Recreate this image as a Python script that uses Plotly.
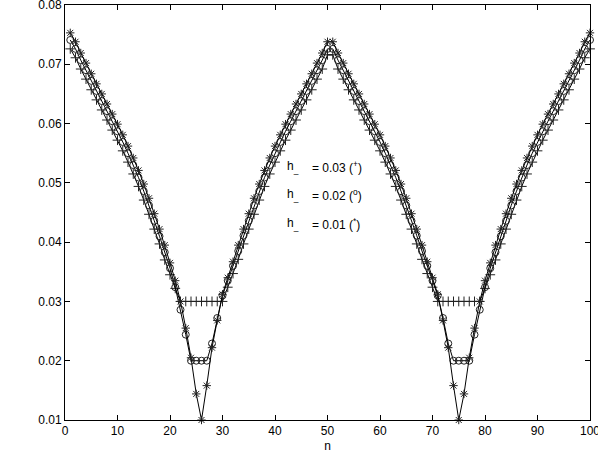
import plotly.graph_objects as go

n_values = list(range(1, 101))

# h = 0.03 (+)
plus_first = [0.0726, 0.0711, 0.0692, 0.0675, 0.0657, 0.0640, 0.0623, 0.0606, 0.0589, 0.0572,
              0.0554, 0.0535, 0.0515, 0.0494, 0.0471, 0.0447, 0.0422, 0.0397, 0.0370, 0.0345,
              0.0322, 0.0300, 0.0300, 0.0300, 0.0300, 0.0300, 0.0300, 0.0300, 0.0300, 0.0300,
              0.0324, 0.0347, 0.0371, 0.0397, 0.0422, 0.0447, 0.0471, 0.0494, 0.0515, 0.0535,
              0.0554, 0.0572, 0.0589, 0.0606, 0.0623, 0.0640, 0.0657, 0.0675, 0.0692, 0.0716]
plus_second = [0.0716, 0.0692, 0.0675, 0.0657, 0.0640, 0.0623, 0.0606, 0.0589, 0.0572, 0.0554,
               0.0535, 0.0515, 0.0494, 0.0471, 0.0447, 0.0422, 0.0397, 0.0371, 0.0347, 0.0324,
               0.0300, 0.0300, 0.0300, 0.0300, 0.0300, 0.0300, 0.0300, 0.0300, 0.0300, 0.0322,
               0.0345, 0.0370, 0.0397, 0.0422, 0.0447, 0.0471, 0.0494, 0.0515, 0.0535, 0.0554,
               0.0572, 0.0589, 0.0606, 0.0623, 0.0640, 0.0657, 0.0675, 0.0692, 0.0711, 0.0726]

# h = 0.02 (o)
circ_first = [0.0741, 0.0726, 0.0707, 0.0690, 0.0672, 0.0655, 0.0638, 0.0621, 0.0604, 0.0587,
              0.0569, 0.0550, 0.0530, 0.0509, 0.0486, 0.0462, 0.0436, 0.0410, 0.0383, 0.0356,
              0.0324, 0.0286, 0.0244, 0.0200, 0.0200, 0.0200, 0.0200, 0.0229, 0.0272, 0.0310,
              0.0335, 0.0360, 0.0385, 0.0411, 0.0436, 0.0462, 0.0486, 0.0509, 0.0530, 0.0550,
              0.0569, 0.0587, 0.0604, 0.0621, 0.0638, 0.0655, 0.0672, 0.0690, 0.0707, 0.0726]
circ_second = [0.0726, 0.0707, 0.0690, 0.0672, 0.0655, 0.0638, 0.0621, 0.0604, 0.0587, 0.0569,
               0.0550, 0.0530, 0.0509, 0.0486, 0.0462, 0.0436, 0.0411, 0.0385, 0.0360, 0.0335,
               0.0310, 0.0272, 0.0229, 0.0200, 0.0200, 0.0200, 0.0200, 0.0244, 0.0286, 0.0324,
               0.0356, 0.0383, 0.0410, 0.0436, 0.0462, 0.0486, 0.0509, 0.0530, 0.0550, 0.0569,
               0.0587, 0.0604, 0.0621, 0.0638, 0.0655, 0.0672, 0.0690, 0.0707, 0.0726, 0.0741]

# h = 0.01 (*)
star_first = [0.0753, 0.0738, 0.0719, 0.0702, 0.0684, 0.0667, 0.0650, 0.0633, 0.0616, 0.0599,
              0.0581, 0.0562, 0.0542, 0.0521, 0.0498, 0.0474, 0.0448, 0.0422, 0.0395, 0.0365,
              0.0335, 0.0300, 0.0255, 0.0205, 0.0144, 0.0100, 0.0158, 0.0222, 0.0268, 0.0312,
              0.0340, 0.0367, 0.0395, 0.0422, 0.0448, 0.0474, 0.0498, 0.0521, 0.0542, 0.0562,
              0.0581, 0.0599, 0.0616, 0.0633, 0.0650, 0.0667, 0.0684, 0.0702, 0.0719, 0.0738]
star_second = [0.0738, 0.0719, 0.0702, 0.0684, 0.0667, 0.0650, 0.0633, 0.0616, 0.0599, 0.0581,
               0.0562, 0.0542, 0.0521, 0.0498, 0.0474, 0.0448, 0.0422, 0.0395, 0.0367, 0.0340,
               0.0312, 0.0268, 0.0222, 0.0158, 0.0100, 0.0144, 0.0205, 0.0255, 0.0300, 0.0335,
               0.0365, 0.0395, 0.0422, 0.0448, 0.0474, 0.0498, 0.0521, 0.0542, 0.0562, 0.0581,
               0.0599, 0.0616, 0.0633, 0.0650, 0.0667, 0.0684, 0.0702, 0.0719, 0.0738, 0.0753]

plus_values = plus_first + plus_second
circ_values = circ_first + circ_second
star_values = star_first + star_second

x_ticks = [0, 10, 20, 30, 40, 50, 60, 70, 80, 90, 100]
y_ticks = [0.01, 0.02, 0.03, 0.04, 0.05, 0.06, 0.07, 0.08]
labels = ["= 0.03 (<sup>+</sup>)", "= 0.02 (<sup>o</sup>)", "= 0.01 (<sup>*</sup>)"]
label_y = [0.0527, 0.0480, 0.0431]

FONT = "Liberation Sans, Arial, Helvetica, sans-serif"

fig = go.Figure()
series = [
    (plus_values, "cross-thin-open", 7),
    (circ_values, "circle-open", 7),
    (star_values, "asterisk-open", 7),
]
for vals, sym, size in series:
    fig.add_trace(go.Scatter(
        x=n_values, y=vals, mode="lines+markers",
        line=dict(color="black", width=1),
        marker=dict(symbol=sym, size=size, color="#222222", line=dict(width=1, color="#222222")),
        showlegend=False, cliponaxis=False,
    ))

for lab, yv in zip(labels, label_y):
    fig.add_annotation(x=41.9, y=yv, xref="x", yref="y", text="h<sub>_</sub>",
                       showarrow=False, xanchor="left", yanchor="middle",
                       font=dict(family=FONT, size=12, color="black"))
    fig.add_annotation(x=46.7, y=yv, xref="x", yref="y", text=lab,
                       showarrow=False, xanchor="left", yanchor="middle",
                       font=dict(family=FONT, size=12, color="black"))

axis_common = dict(showline=True, linecolor="black", linewidth=1, mirror="ticks",
                   ticks="inside", ticklen=5, tickcolor="black", showgrid=False,
                   zeroline=False, ticklabeloverflow="allow", automargin=False,
                   tickfont=dict(family=FONT, size=12, color="black"))

fig.update_xaxes(range=[0, 100.0001], tickvals=x_ticks, ticktext=[str(v) for v in x_ticks],
                 title=dict(text="n", font=dict(family=FONT, size=12, color="black"), standoff=5),
                 **axis_common)
fig.update_yaxes(range=[0.01, 0.0800001], tickvals=y_ticks, ticktext=[f"{v:.2f}" for v in y_ticks],
                 **axis_common)

fig.update_layout(width=598, height=453, margin=dict(l=65, r=8, t=5, b=33),
                  plot_bgcolor="white", paper_bgcolor="white",
                  font=dict(family=FONT, size=12, color="black"))

fig.write_html("out.html")
